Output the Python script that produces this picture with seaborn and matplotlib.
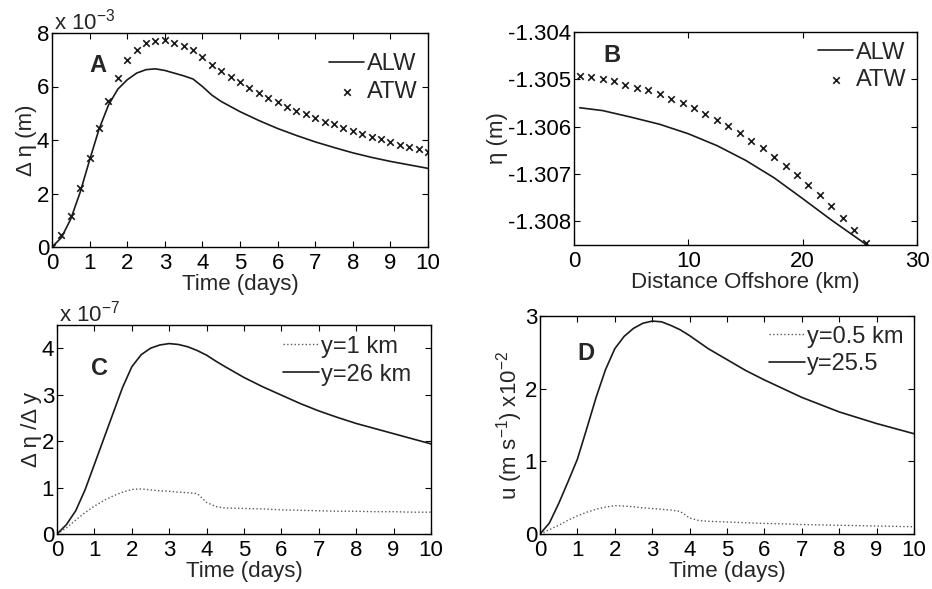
import numpy as np
import seaborn as sns
import matplotlib.pyplot as plt

# === Panel A: sea level change vs time (units of 1e-3 m) ===
t_atw = np.arange(0, 10.01, 0.25)          # ATW sampled every 6 h
atw_A = [0, 0.44, 1.15, 2.19, 3.31, 4.46, 5.46, 6.31, 7.0, 7.38, 7.62, 7.71, 7.73,
         7.64, 7.52, 7.38, 7.1, 6.8, 6.58, 6.37, 6.15, 5.94, 5.76, 5.58, 5.41, 5.25,
         5.1, 4.96, 4.83, 4.69, 4.58, 4.46, 4.34, 4.24, 4.13, 4.03, 3.93, 3.83,
         3.74, 3.65, 3.57]
t_alw = [0, 0.25, 0.5, 0.75, 1, 1.25, 1.5, 1.75, 2, 2.25, 2.5, 2.75, 3, 3.25, 3.5,
         3.75, 4, 4.25, 4.5, 5, 5.5, 6, 6.5, 7, 7.5, 8, 8.5, 9, 9.5, 10]
alw_A = [0, 0.35, 1.05, 2.05, 3.25, 4.4, 5.3, 5.9, 6.25, 6.5, 6.63, 6.66, 6.6,
         6.5, 6.4, 6.28, 6.0, 5.68, 5.44, 5.06, 4.73, 4.43, 4.17, 3.93, 3.72, 3.52,
         3.35, 3.2, 3.07, 2.94]

# === Panel B: eta vs distance offshore ===
x_atw = np.arange(0.5, 26, 1.0)
atw_B = [-1.30492, -1.30495, -1.30500, -1.30504, -1.30511, -1.30518, -1.30523,
         -1.30532, -1.30542, -1.30551, -1.30561, -1.30573, -1.30585, -1.30599,
         -1.30613, -1.30630, -1.30646, -1.30664, -1.30683, -1.30703, -1.30723,
         -1.30745, -1.30768, -1.30793, -1.30818, -1.30846]
x_alw = [0.5, 2.5, 5, 7.5, 10, 12.5, 15, 17.5, 20, 22.5, 25.5]
alw_B = [-1.30560, -1.30566, -1.30580, -1.30595, -1.30615, -1.30640, -1.30671,
         -1.30708, -1.30752, -1.30797, -1.30848]

# === Panels C and D: time series (C in 1e-7, D in 1e-2 m/s) ===
t_cd = t_alw
c_26km = [0, 0.2, 0.5, 0.95, 1.5, 2.05, 2.6, 3.15, 3.6, 3.86, 4.0, 4.07, 4.1, 4.08,
          4.03, 3.95, 3.85, 3.72, 3.6, 3.37, 3.17, 2.99, 2.81, 2.65, 2.51, 2.38,
          2.27, 2.16, 2.05, 1.94]
c_1km = [0, 0.13, 0.3, 0.46, 0.6, 0.72, 0.82, 0.9, 0.96, 0.97, 0.95, 0.93, 0.92,
         0.9, 0.89, 0.87, 0.68, 0.59, 0.56, 0.55, 0.54, 0.52, 0.51, 0.5, 0.49,
         0.49, 0.48, 0.48, 0.47, 0.47]
d_255 = [0, 0.15, 0.42, 0.72, 1.03, 1.45, 1.88, 2.26, 2.55, 2.72, 2.83, 2.9, 2.93,
         2.92, 2.87, 2.81, 2.73, 2.64, 2.55, 2.4, 2.25, 2.12, 2.0, 1.88, 1.78,
         1.68, 1.6, 1.52, 1.45, 1.38]
d_05 = [0, 0.06, 0.12, 0.19, 0.25, 0.3, 0.34, 0.37, 0.39, 0.385, 0.375, 0.36,
        0.35, 0.34, 0.33, 0.31, 0.22, 0.185, 0.175, 0.165, 0.155, 0.145, 0.14,
        0.13, 0.125, 0.12, 0.115, 0.11, 0.105, 0.1]

sns.set_theme(style="ticks")
FS = 16
plt.rcParams.update({
    "font.family": ["Liberation Sans", "DejaVu Sans"],
    "font.size": FS,
    "mathtext.fontset": "custom",
    "mathtext.rm": "Liberation Sans",
    "mathtext.default": "regular",
    "axes.unicode_minus": False,
    "axes.edgecolor": "black",
    "axes.linewidth": 1.0,
    "xtick.direction": "in", "ytick.direction": "in",
    "xtick.top": True, "ytick.right": True,
    "xtick.major.size": 4, "ytick.major.size": 4,
    "xtick.major.width": 0.8, "ytick.major.width": 0.8,
    "xtick.labelsize": FS, "ytick.labelsize": FS,
    "xtick.color": "black", "ytick.color": "black",
    "xtick.major.pad": 4, "ytick.major.pad": 2,
    "axes.labelsize": FS, "axes.labelpad": 0,
})

W, H = 932, 589
fig = plt.figure(figsize=(W / 100, H / 100), dpi=100)

def box(l, r, t, b):
    return fig.add_axes([l / W, (H - b) / H, (r - l) / W, (b - t) / H])

axA = box(52, 428, 33, 247)
axB = box(574, 917, 32, 245)
axC = box(57, 431, 325, 534)
axD = box(540, 914, 316, 534)

leg_kw = dict(loc="upper right", frameon=False, fontsize=17, handlelength=1.5,
              handletextpad=0.1, borderaxespad=0.25, labelspacing=0.25,
              borderpad=0.2, scatterpoints=1)

# --- A ---
sns.lineplot(x=t_alw, y=alw_A, ax=axA, color="k", lw=1.2, label="ALW")
sns.scatterplot(x=t_atw, y=atw_A, ax=axA, marker="x", color="k", s=22,
                linewidth=1.2, label="ATW")
axA.set_xlim(0, 10); axA.set_ylim(0, 8)
axA.set_xticks(range(0, 11)); axA.set_yticks([0, 2, 4, 6, 8])
axA.set_xlabel("Time (days)"); axA.set_ylabel("Δ η (m)")
axA.text(0.005, 0.995, "x 10$^{-3}$", transform=axA.transAxes, fontsize=FS,
         va="bottom", ha="left")
axA.text(0.1, 0.85, "A", transform=axA.transAxes, fontsize=17,
         fontweight="bold", va="center")
axA.legend(bbox_to_anchor=(1.0, 0.955), **leg_kw)

# --- B ---
sns.lineplot(x=x_alw, y=alw_B, ax=axB, color="k", lw=1.2, label="ALW")
sns.scatterplot(x=x_atw, y=atw_B, ax=axB, marker="x", color="k", s=22,
                linewidth=1.2, label="ATW")
axB.set_xlim(0, 30); axB.set_ylim(-1.3085, -1.304)
axB.set_xticks([0, 10, 20, 30])
axB.set_yticks([-1.308, -1.307, -1.306, -1.305, -1.304])
axB.set_yticklabels(["-1.308", "-1.307", "-1.306", "-1.305", "-1.304"])
axB.set_xlabel("Distance Offshore (km)"); axB.set_ylabel("η (m)")
axB.text(0.085, 0.89, "B", transform=axB.transAxes, fontsize=17,
         fontweight="bold", va="center")
axB.legend(bbox_to_anchor=(1.0, 1.005), **leg_kw)

# --- C ---
sns.lineplot(x=t_cd, y=c_1km, ax=axC, color="0.35", lw=1.0, ls=":", label="y=1 km")
sns.lineplot(x=t_cd, y=c_26km, ax=axC, color="k", lw=1.2, label="y=26 km")
axC.set_xlim(0, 10); axC.set_ylim(0, 4.5)
axC.set_xticks(range(0, 11)); axC.set_yticks([0, 1, 2, 3, 4])
axC.set_xlabel("Time (days)"); axC.set_ylabel("Δ η /Δ y")
axC.text(0.005, 0.995, "x 10$^{-7}$", transform=axC.transAxes, fontsize=FS,
         va="bottom", ha="left")
axC.text(0.09, 0.79, "C", transform=axC.transAxes, fontsize=17,
         fontweight="bold", va="center")
axC.legend(bbox_to_anchor=(0.975, 1.0), **leg_kw)

# --- D ---
sns.lineplot(x=t_cd, y=d_05, ax=axD, color="0.35", lw=1.0, ls=":", label="y=0.5 km")
sns.lineplot(x=t_cd, y=d_255, ax=axD, color="k", lw=1.2, label="y=25.5")
axD.set_xlim(0, 10); axD.set_ylim(0, 3)
axD.set_xticks(range(0, 11)); axD.set_yticks([0, 1, 2, 3])
axD.set_xlabel("Time (days)"); axD.set_ylabel("u (m s$^{-1}$) x10$^{-2}$")
axD.text(0.10, 0.83, "D", transform=axD.transAxes, fontsize=17,
         fontweight="bold", va="center")
axD.legend(bbox_to_anchor=(1.0, 1.005), **leg_kw)

fig.savefig("out.png", dpi=100)
plt.close(fig)
